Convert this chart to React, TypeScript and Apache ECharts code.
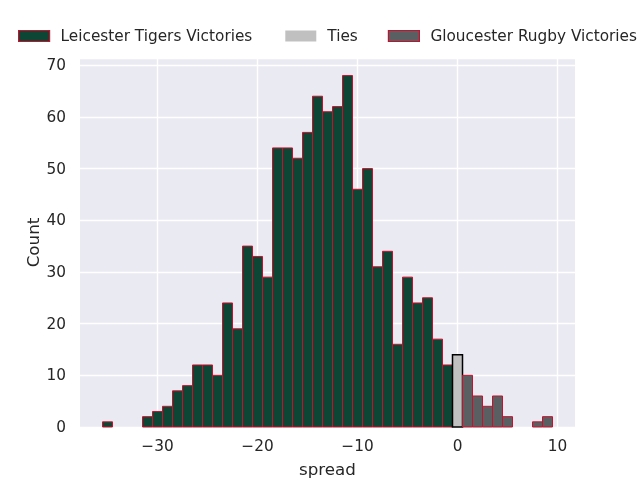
import React, { useEffect, useRef } from "react";
import * as echarts from "echarts";

const leicesterSpread = [-35, -31, -30, -29, -28, -27, -26, -25, -24, -23, -22, -21, -20, -19, -18, -17, -16, -15, -14, -13, -12, -11, -10, -9, -8, -7, -6, -5, -4, -3, -2, -1];
const leicesterCount = [1, 2, 3, 4, 7, 8, 12, 12, 10, 24, 19, 35, 33, 29, 54, 54, 52, 57, 64, 61, 62, 68, 46, 50, 31, 34, 16, 29, 24, 25, 17, 12];
const tieSpread = [0];
const tieCount = [14];
const gloucesterSpread = [1, 2, 3, 4, 5, 8, 9];
const gloucesterCount = [10, 6, 4, 6, 2, 1, 2];
const xTicks = [-30, -20, -10, 0, 10];
const yTicks = [0, 10, 20, 30, 40, 50, 60, 70];

const names = ["Leicester Tigers Victories", "Ties", "Gloucester Rugby Victories"];

export default function App() {
  const ref = useRef<HTMLDivElement>(null);
  useEffect(() => {
    if (!ref.current) return;
    const chart = echarts.init(ref.current, null, { renderer: "svg" });
    const all = [...leicesterSpread, ...tieSpread, ...gloucesterSpread];
    const lo = Math.min(...all) - 0.5;
    const hi = Math.max(...all) + 0.5;
    const pad = (hi - lo) * 0.05;
    const yMax = Math.max(...leicesterCount, ...tieCount, ...gloucesterCount) * 1.05;
    const txt = "#262626";
    const fs = 15.3;
    const legendText = { fontSize: fs, color: txt, fontFamily: "DejaVu Sans", padding: [0, 0, 0, 6], lineHeight: 16, overflow: "none" };

    const barSeries = (name: string, xs: number[], ys: number[], fill: string, stroke: string, lw: number) => ({
      type: "custom",
      name,
      z: 3,
      data: xs.map((x, i) => [x, ys[i]]),
      encode: { x: 0, y: 1 },
      renderItem: (params: any, api: any) => {
        const x = api.value(0);
        const y = api.value(1);
        const p0 = api.coord([x - 0.5, y]);
        const p1 = api.coord([x + 0.5, 0]);
        return {
          type: "rect",
          shape: { x: p0[0], y: p0[1], width: p1[0] - p0[0], height: p1[1] - p0[1] },
          style: { fill, stroke, lineWidth: lw },
        };
      },
    });

    chart.setOption({
      animation: false,
      textStyle: { fontFamily: "DejaVu Sans", color: txt },
      legend: {
        left: 18,
        top: 28,
        padding: 0,
        icon: "rect",
        itemWidth: 31,
        itemHeight: 11,
        itemGap: 30,
        textStyle: legendText,
        data: [
          {
            name: names[0],
            itemStyle: { color: "#0d4634", borderColor: "#c8102e", borderWidth: 1.2 },
            textStyle: { ...legendText, padding: [0, 3, 0, 6] },
          },
          { name: names[1], itemStyle: { color: "#c0c0c0", borderWidth: 0 } },
          { name: names[2], itemStyle: { color: "#5a6062", borderColor: "#c8102e", borderWidth: 1.2 } },
        ],
      },
      grid: {
        left: 80,
        right: 65,
        top: 58,
        bottom: 53,
        containLabel: false,
        outerBoundsMode: "none",
        show: true,
        backgroundColor: "#eaeaf2",
        borderWidth: 0,
      },
      xAxis: {
        type: "value",
        min: lo - pad,
        max: hi + pad,
        name: "spread",
        nameLocation: "middle",
        nameGap: 33,
        nameMoveOverlap: false,
        nameTextStyle: { fontSize: 16.7, color: txt, fontFamily: "DejaVu Sans" },
        axisLine: { show: false },
        axisTick: { show: false },
        splitLine: { show: false },
        axisLabel: {
          customValues: xTicks,
          fontSize: fs,
          color: txt,
          margin: 11,
          formatter: (v: number) => String(v).replace("-", "\u2212"),
        },
      },
      yAxis: {
        type: "value",
        min: 0,
        max: yMax,
        interval: 10,
        name: "Count",
        nameLocation: "middle",
        nameGap: 39,
        nameMoveOverlap: false,
        nameTextStyle: { fontSize: 16.7, color: txt, fontFamily: "DejaVu Sans" },
        axisLine: { show: false },
        axisTick: { show: false },
        splitLine: { show: true, lineStyle: { color: "#ffffff", width: 1.4 } },
        axisLabel: { customValues: yTicks, fontSize: fs, color: txt, margin: 14 },
      },
      series: [
        {
          type: "custom",
          name: "xgrid",
          z: 1,
          silent: true,
          data: xTicks.map((t) => [t, 0]),
          encode: { x: 0, y: 1 },
          renderItem: (params: any, api: any) => {
            const t = api.value(0);
            const a = api.coord([t, yMax]);
            const b = api.coord([t, 0]);
            return {
              type: "line",
              shape: { x1: a[0], y1: a[1], x2: b[0], y2: b[1] },
              style: { stroke: "#ffffff", lineWidth: 1.4 },
            };
          },
        },
        barSeries(names[0], leicesterSpread, leicesterCount, "#0d4634", "#c8102e", 1),
        barSeries(names[1], tieSpread, tieCount, "#c0c0c0", "#000000", 1.5),
        barSeries(names[2], gloucesterSpread, gloucesterCount, "#5a6062", "#c8102e", 1),
      ],
    });
    return () => chart.dispose();
  }, []);
  return <div ref={ref} style={{ position: "fixed", left: 0, top: 0, width: 640, height: 480 }} />;
}
